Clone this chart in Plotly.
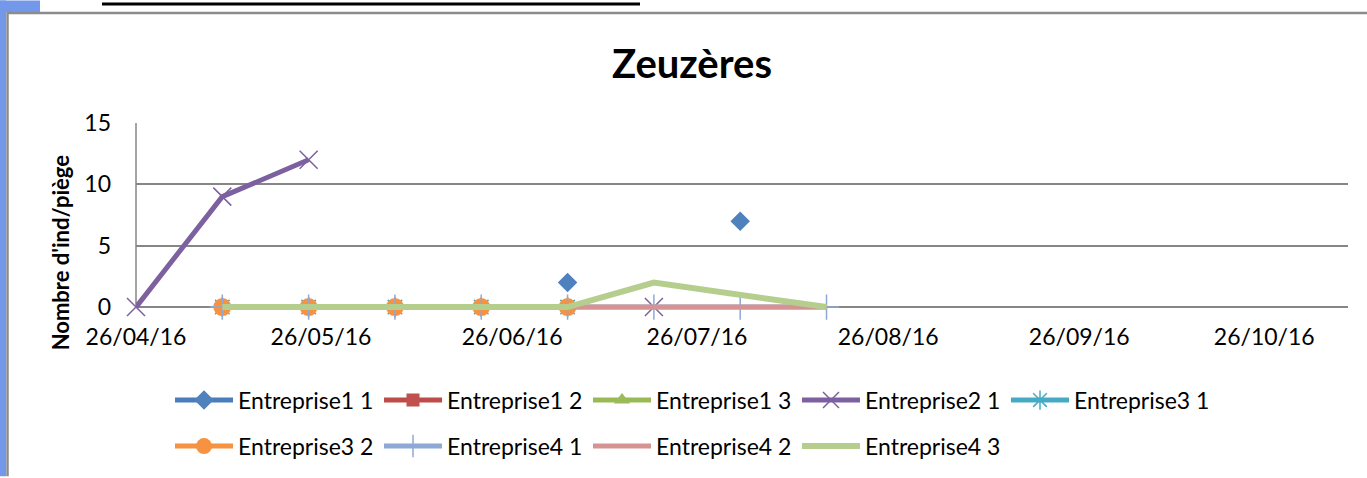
import plotly.graph_objects as go

# ---------------- data ----------------
dates = ["2016-04-26", "2016-05-10", "2016-05-24", "2016-06-07", "2016-06-21",
         "2016-07-05", "2016-07-19", "2016-08-02", "2016-08-16"]

entreprise1_1 = [None, None, None, None, None, 2, None, 7, None]
entreprise1_2 = [None, None, None, None, None, None, None, None, None]
entreprise1_3 = [None, None, None, None, None, None, None, None, None]
entreprise2_1 = [0, 9, 12, None, None, None, 0, None, None]
entreprise3_1 = [None, 0, 0, 0, 0, 0, None, None, None]
entreprise3_2 = [None, 0, 0, 0, 0, 0, None, None, None]
entreprise4_1 = [None, 0, 0, 0, 0, 0, 0, 0, 0]
entreprise4_2 = [None, 0, 0, 0, 0, 0, 0, 0, 0]
entreprise4_3 = [None, 0, 0, 0, 0, 0, 2, 1, 0]

series_names = ["Entreprise1 1", "Entreprise1 2", "Entreprise1 3", "Entreprise2 1",
                "Entreprise3 1", "Entreprise3 2", "Entreprise4 1", "Entreprise4 2",
                "Entreprise4 3"]
series_values = [entreprise1_1, entreprise1_2, entreprise1_3, entreprise2_1,
                 entreprise3_1, entreprise3_2, entreprise4_1, entreprise4_2,
                 entreprise4_3]

x_tick_dates = ["2016-04-26", "2016-05-26", "2016-06-26", "2016-07-26",
                "2016-08-26", "2016-09-26", "2016-10-26"]
y_ticks = [0, 5, 10, 15]

title_text = "Zeuzères"
y_title_text = "Nombre d'ind/piège"

# ---------------- styles ----------------
styles = [
    dict(color="#4A7EBB", symbol="diamond", size=15, mcolor="#4F81BD", lw=5, mline=None),
    dict(color="#BE4B48", symbol="square", size=13, mcolor="#C0504D", lw=5, mline=None),
    dict(color="#98B954", symbol="triangle-up", size=14, mcolor="#9BBB59", lw=5, mline=None),
    dict(color="#7D60A0", symbol="x-thin-open", size=18, mcolor="#7D60A0", lw=5, mline=1.5),
    dict(color="#46AAC5", symbol="asterisk-open", size=17, mcolor="#46AAC5", lw=5, mline=1.5),
    dict(color="#F69240", symbol="circle", size=18, mcolor="#F69240", lw=5, mline=None),
    dict(color="#8EA9D8", symbol="cross-thin-open", size=18, mcolor="#8EA9D8", lw=5, mline=1.5),
    dict(color="#D59391", symbol=None, size=0, mcolor=None, lw=5, mline=None),
    dict(color="#B5CE8E", symbol=None, size=0, mcolor=None, lw=6, mline=None),
]

FONT = "Lato"
fig = go.Figure()
for i, (name, vals, st) in enumerate(zip(series_names, series_values, styles)):
    if st["symbol"] is None:
        mode = "lines"
        marker = None
    else:
        mode = "lines+markers"
        if st["mline"]:
            marker = dict(symbol=st["symbol"], size=st["size"],
                          line=dict(color=st["mcolor"], width=st["mline"]))
        else:
            marker = dict(symbol=st["symbol"], size=st["size"], color=st["mcolor"],
                          line=dict(width=0))
    fig.add_trace(go.Scatter(
        x=dates, y=vals, name=name, mode=mode,
        line=dict(color=st["color"], width=st["lw"]),
        marker=marker, connectgaps=False, cliponaxis=False,
        legend="legend" if i < 5 else "legend2",
    ))

# plot area geometry (pixels); value 0 sits at y=308, a small pad below it
W, H = 1367, 478
Y_MIN, Y_MAX = -0.4, 15
L, R, T = 136, 1348, 123
ZERO_Y = 308
B = ZERO_Y + (ZERO_Y - T) / Y_MAX * (0 - Y_MIN)


def px(xp):
    return (xp - L) / (R - L)


def py(yp):
    return (B - yp) / (B - T)


legend_common = dict(
    orientation="h", xanchor="left", yanchor="middle",
    font=dict(family=FONT, size=23, color="#000000"),
    itemwidth=58, entrywidth=136, bgcolor="rgba(0,0,0,0)",
    traceorder="normal", itemclick=False,
)

shapes = [
    # vertical value axis line (from 0 to 15)
    dict(type="line", xref="paper", yref="y", x0=0, x1=0, y0=0, y1=Y_MAX,
         line=dict(color="#868686", width=1.5), layer="below"),
    # left blue strip of the page
    dict(type="rect", xref="paper", yref="paper", x0=px(0), x1=px(6), y0=py(H), y1=py(0),
         fillcolor="#7398EA", line=dict(width=0), layer="above"),
    dict(type="rect", xref="paper", yref="paper", x0=px(0), x1=px(40), y0=py(12), y1=py(0),
         fillcolor="#7398EA", line=dict(width=0), layer="above"),
    # chart frame
    dict(type="line", xref="paper", yref="paper", x0=px(7), x1=px(W), y0=py(12.5), y1=py(12.5),
         line=dict(color="#8C8C8C", width=2.5), layer="above"),
    dict(type="line", xref="paper", yref="paper", x0=px(7.5), x1=px(7.5), y0=py(12), y1=py(H),
         line=dict(color="#8C8C8C", width=2.5), layer="above"),
    # cropped underlined heading of the page
    dict(type="line", xref="paper", yref="paper", x0=px(102), x1=px(640), y0=py(3.5), y1=py(3.5),
         line=dict(color="#000000", width=3), layer="above"),
]

fig.update_layout(
    width=W, height=H,
    margin=dict(l=L, r=W - R, t=T, b=H - B, pad=0),
    paper_bgcolor="#FFFFFF", plot_bgcolor="#FFFFFF",
    font=dict(family=FONT, size=23, color="#000000"),
    title=dict(text="<b>" + title_text + "</b>", xref="container", yref="container",
               x=692 / W, xanchor="center", y=1 - 64 / H, yanchor="middle",
               font=dict(family=FONT, size=40, color="#000000")),
    xaxis=dict(
        type="date", range=["2016-04-26", "2016-11-08 14:00"],
        tickvals=x_tick_dates, tickformat="%d/%m/%y",
        showgrid=False, zeroline=False, showline=False,
        ticks="", ticklabelstandoff=9,
        tickfont=dict(family=FONT, size=23, color="#000000"),
    ),
    yaxis=dict(
        range=[Y_MIN, Y_MAX], tickvals=y_ticks,
        showgrid=True, gridcolor="#868686", gridwidth=1.5,
        zeroline=True, zerolinecolor="#868686", zerolinewidth=1.5,
        showline=False,
        ticks="", ticklabelstandoff=24,
        tickfont=dict(family=FONT, size=23, color="#000000"),
    ),
    legend=dict(x=px(170), y=py(400), **legend_common),
    legend2=dict(x=px(170), y=py(446), **legend_common),
    shapes=shapes,
    annotations=[dict(
        text="<b>" + y_title_text + "</b>", textangle=-90,
        xref="paper", yref="paper", x=px(60), y=py(253),
        xanchor="center", yanchor="middle", showarrow=False,
        font=dict(family=FONT, size=22, color="#000000"),
    )],
    showlegend=True,
)

fig.write_html(
    "out.html",
    config={"displayModeBar": False},
    post_script="document.body.style.margin='0';document.body.style.padding='0';"
                "document.documentElement.style.overflow='hidden';",
)
